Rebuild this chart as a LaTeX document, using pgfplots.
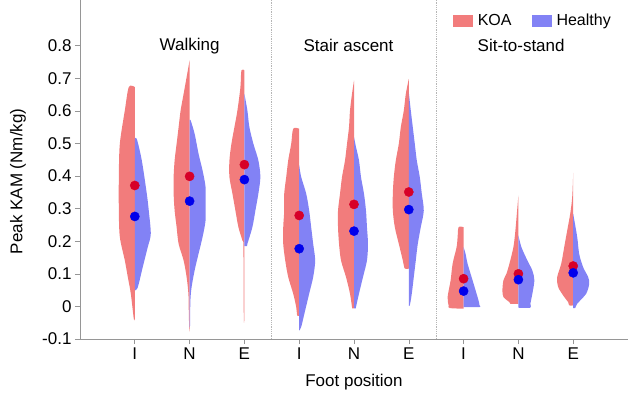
\documentclass[border=0pt]{standalone}
\usepackage{fontspec}
\setmainfont{Liberation Sans}
\usepackage{pgfplots}
\pgfplotsset{compat=1.18}
\definecolor{koa}{RGB}{242,124,124}
\definecolor{hea}{RGB}{130,130,245}
\definecolor{koadot}{RGB}{215,0,40}
\definecolor{headot}{RGB}{0,0,235}
\definecolor{axgray}{RGB}{150,150,150}
\newcommand{\fs}{\fontsize{17}{20}\selectfont}
% half violin: #1 colour, #2 category position, #3 side (- left, + right), #4 rows "value width(px)"
\newcommand{\vhalf}[4]{\addplot[fill=#1, draw=none, smooth, tension=0.5, forget plot] table[row sep=\\, x expr={#2#3\thisrow{w}/54.9}, y=v] {v w\\ #4};}
\pgfplotsset{patch legend/.style={legend image code/.code={\fill[##1] (0pt,-6pt) rectangle (20pt,6pt);}}}
\begin{document}
\begin{tikzpicture}
\begin{axis}[
  scale only axis, width=548pt, height=339pt,
  xmin=0, xmax=10, ymin=-0.1, ymax=0.94,
  axis lines*=left,
  axis line style={axgray, line width=0.8pt},
  xtick={1,2,3,4,5,6,7,8,9},
  xticklabels={I,N,E,I,N,E,I,N,E},
  ytick={-0.1,0,0.1,0.2,0.3,0.4,0.5,0.6,0.7,0.8},
  yticklabels={-0.1,0,0.1,0.2,0.3,0.4,0.5,0.6,0.7,0.8},
  /pgf/number format/assume math mode=true,
  tick align=outside, major tick length=5pt,
  tick style={axgray, line width=0.6pt},
  tick label style={font=\fs},
  xlabel={Foot position}, ylabel={Peak KAM (Nm/kg)},
  every axis y label/.style={at={(axis description cs:-0.113,0.465)}, rotate=90, anchor=center, font=\fs},
  every axis x label/.style={at={(axis description cs:0.5,-0.127)}, anchor=center, font=\fs},
  legend columns=2,
  legend style={draw=none, fill=none, font=\fontsize{16}{18}\selectfont,
    at={(axis description cs:1,1)}, anchor=north east, xshift=-12pt, yshift=-10pt,
    /tikz/every odd column/.append style={column sep=3pt},
    /tikz/every even column/.append style={column sep=18pt}},
]
\addlegendimage{patch legend, fill=koa, draw=none}
\addlegendentry{KOA}
\addlegendimage{patch legend, fill=hea, draw=none}
\addlegendentry{Healthy}
% separators
\addplot[axgray!70, densely dotted, line width=0.8pt, forget plot] coordinates {(3.5,-0.1) (3.5,0.94)};
\addplot[axgray!70, densely dotted, line width=0.8pt, forget plot] coordinates {(6.5,-0.1) (6.5,0.94)};
% ---- Walking ----
\vhalf{koa}{1}{-}{0.673 0\\ 0.673 6\\ 0.601 10\\ 0.499 15\\ 0.397 16\\ 0.294 16\\ 0.213 15\\ 0.141 10\\ 0.090 7\\ 0.039 4\\ -0.038 1\\ -0.038 0\\}
\vhalf{hea}{1}{+}{0.514 0\\ 0.514 2\\ 0.448 7\\ 0.346 12\\ 0.294 14\\ 0.223 16\\ 0.182 13\\ 0.121 8\\ 0.059 3\\ 0.049 0\\}
\vhalf{koa}{2}{-}{0.755 0\\ 0.703 3\\ 0.652 6\\ 0.601 9\\ 0.550 11\\ 0.499 13\\ 0.448 15\\ 0.397 16\\ 0.346 16\\ 0.294 15\\ 0.243 13\\ 0.192 11\\ 0.141 6\\ 0.090 3\\ 0.039 1.2\\ -0.020 0.8\\ -0.074 0.3\\ -0.074 0\\}
\vhalf{hea}{2}{+}{0.571 0\\ 0.571 1\\ 0.530 5\\ 0.468 9\\ 0.417 13\\ 0.366 16\\ 0.315 16\\ 0.264 16\\ 0.213 13\\ 0.162 9\\ 0.110 5\\ 0.059 2\\ 0.018 0.8\\ -0.060 0.4\\ -0.060 0\\}
\vhalf{koa}{3}{-}{0.724 0\\ 0.724 3\\ 0.672 4\\ 0.601 7\\ 0.550 10\\ 0.499 13\\ 0.448 15\\ 0.397 15\\ 0.346 12\\ 0.294 9\\ 0.243 6\\ 0.202 2\\ 0.182 1\\ -0.037 0.6\\ -0.037 0\\}
\vhalf{hea}{3}{+}{0.652 0\\ 0.601 3\\ 0.550 5\\ 0.499 9\\ 0.448 14\\ 0.397 16\\ 0.346 14\\ 0.294 11\\ 0.243 8\\ 0.192 3\\ 0.185 2.5\\ 0.185 0\\}
% ---- Stair ascent ----
\vhalf{koa}{4}{-}{0.545 0\\ 0.545 6\\ 0.499 8\\ 0.448 11\\ 0.397 13\\ 0.346 15\\ 0.294 15\\ 0.243 16\\ 0.192 16\\ 0.141 14\\ 0.090 11\\ 0.039 6\\ -0.002 3\\ -0.028 2\\ -0.028 0\\}
\vhalf{hea}{4}{+}{0.433 0\\ 0.397 2\\ 0.346 7\\ 0.294 10\\ 0.243 12\\ 0.192 14\\ 0.141 16\\ 0.090 14\\ 0.039 10\\ -0.012 6\\ -0.063 2\\ -0.074 0\\}
\vhalf{koa}{5}{-}{0.693 0\\ 0.652 2\\ 0.601 4\\ 0.550 5\\ 0.499 7\\ 0.448 9\\ 0.397 12\\ 0.346 14\\ 0.294 16\\ 0.243 16\\ 0.192 15\\ 0.141 13\\ 0.090 8\\ 0.039 4\\ -0.002 2\\ -0.006 1.5\\ -0.006 0\\}
\vhalf{hea}{5}{+}{0.519 0\\ 0.489 2\\ 0.448 5\\ 0.397 7\\ 0.346 10\\ 0.294 12\\ 0.243 13\\ 0.192 14\\ 0.141 13\\ 0.090 9\\ 0.039 5\\ -0.002 2\\ -0.006 2\\ -0.006 0\\}
\vhalf{koa}{6}{-}{0.698 0\\ 0.652 3\\ 0.601 5\\ 0.550 8\\ 0.499 10\\ 0.448 13\\ 0.397 15\\ 0.346 16\\ 0.294 16\\ 0.243 14\\ 0.192 10\\ 0.141 6\\ 0.116 4\\ 0.116 0\\}
\vhalf{hea}{6}{+}{0.657 0\\ 0.601 2\\ 0.550 4\\ 0.499 6\\ 0.448 8\\ 0.397 11\\ 0.346 13\\ 0.294 15\\ 0.243 12\\ 0.192 9\\ 0.141 7\\ 0.090 5\\ 0.039 3\\ 0.003 1\\ 0.003 0\\}
% ---- Sit-to-stand ----
\vhalf{koa}{7}{-}{0.243 0\\ 0.243 5\\ 0.213 6\\ 0.182 7\\ 0.131 11\\ 0.080 13\\ 0.029 16\\ 0.003 15\\ -0.005 14\\ -0.007 0\\}
\vhalf{hea}{7}{+}{0.182 0\\ 0.161 2\\ 0.131 4\\ 0.080 9\\ 0.039 13\\ 0.018 15\\ 0.003 16\\ -0.002 16\\ -0.002 0\\}
\vhalf{koa}{8}{-}{0.340 0\\ 0.305 1\\ 0.233 3\\ 0.182 5\\ 0.131 9\\ 0.100 12\\ 0.080 15\\ 0.049 16\\ 0.029 15\\ 0.013 9\\ 0.008 8\\ 0.008 0\\}
\vhalf{hea}{8}{+}{0.218 0\\ 0.182 3\\ 0.141 9\\ 0.110 14\\ 0.080 16\\ 0.039 14\\ 0.008 12\\ -0.004 12\\ -0.004 0\\}
\vhalf{koa}{9}{-}{0.410 0\\ 0.335 1\\ 0.284 3\\ 0.233 6\\ 0.182 9\\ 0.131 12\\ 0.090 16\\ 0.059 15\\ 0.029 9\\ 0.013 5\\ 0.003 4\\ 0.003 0\\}
\vhalf{hea}{9}{+}{0.284 0\\ 0.213 4\\ 0.161 6\\ 0.120 10\\ 0.090 15\\ 0.069 16\\ 0.039 13\\ 0.008 4\\ -0.005 2\\ -0.005 0\\}
% means
\addplot[only marks, mark=*, mark size=4.6pt, draw=koadot, fill=koadot, forget plot]
  coordinates {(1,0.371) (2,0.399) (3,0.435) (4,0.279) (5,0.313) (6,0.351) (7,0.085) (8,0.100) (9,0.124)};
\addplot[only marks, mark=*, mark size=4.6pt, draw=headot, fill=headot, forget plot]
  coordinates {(1,0.276) (2,0.323) (3,0.389) (4,0.177) (5,0.231) (6,0.297) (7,0.047) (8,0.082) (9,0.103)};
% group titles
\node[font=\fs] at (axis cs:2,0.8) {Walking};
\node[font=\fs] at (axis cs:4.9,0.8) {Stair ascent};
\node[font=\fs] at (axis cs:8.05,0.8) {Sit-to-stand};
\end{axis}
\pgfresetboundingbox
\useasboundingbox (-80pt,-53pt) rectangle (550pt,339pt);
\end{tikzpicture}
\end{document}
